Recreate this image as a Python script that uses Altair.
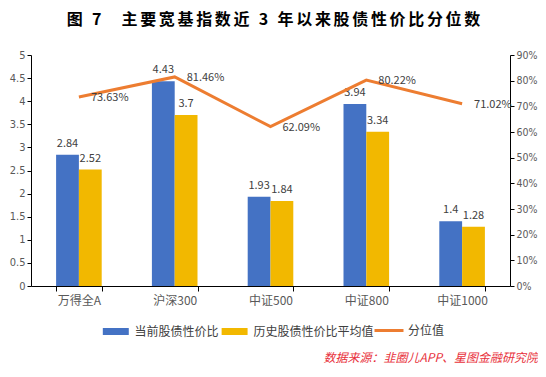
import altair as alt
import pandas as pd

categories = ["万得全A", "沪深300", "中证500", "中证800", "中证1000"]
current_ratio = [2.84, 4.43, 1.93, 3.94, 1.4]
hist_avg = [2.52, 3.7, 1.84, 3.34, 1.28]
percentile = [73.63, 81.46, 62.09, 80.22, 71.02]
series_names = ["当前股债性价比", "历史股债性价比平均值"]
line_name = "分位值"
left_ticks = [0, 0.5, 1, 1.5, 2, 2.5, 3, 3.5, 4, 4.5, 5]
right_ticks = [0, 0.1, 0.2, 0.3, 0.4, 0.5, 0.6, 0.7, 0.8, 0.9]
title_parts = ["图\u20057", "主要宽基指数近\u20053\u2005年以来股债性价比分位数"]
source_text = "数据来源：韭圈儿APP、星图金融研究院"

def spaced(s):
    return "\u2006".join(list(s))

title_text = spaced(title_parts[0]) + "\u2003\u2005" + spaced(title_parts[1])

FONT = "Noto Sans CJK SC"
NUMFONT = "'Liberation Sans Narrow', 'DejaVu Sans Condensed', 'Noto Sans CJK SC'"
GRAY = "#595959"

bars_df = pd.DataFrame(
    [{"cat": c, "series": series_names[0], "value": v} for c, v in zip(categories, current_ratio)]
    + [{"cat": c, "series": series_names[1], "value": v} for c, v in zip(categories, hist_avg)]
)
line_df = pd.DataFrame({"cat": categories, "pct": [p / 100 for p in percentile],
                        "label": [f"{p:.2f}%" for p in percentile]})

x_scale = alt.Scale(paddingInner=0.524, paddingOuter=0.262)
x_axis = alt.Axis(labelAngle=0, tickBand="extent", labelFontSize=12, labelColor=GRAY,
                  labelFont=FONT, domainColor="#000000", tickColor="#000000",
                  tickSize=5, labelPadding=4)

def xenc():
    return alt.X("cat:N", sort=categories, title=None, scale=x_scale, axis=x_axis)

left_axis = alt.Axis(values=left_ticks, grid=False, labelOverlap=False, labelFontSize=11,
                     labelExpr="'' + datum.value",
                     labelColor=GRAY, labelFont=NUMFONT, domainColor="#000000",
                     tickColor="#000000", tickSize=4, labelPadding=2)
yleft = alt.Y("value:Q", title=None, scale=alt.Scale(domain=[0, 5], nice=False), axis=left_axis)

bars = alt.Chart(bars_df).mark_bar().encode(
    x=xenc(),
    xOffset=alt.XOffset("series:N", sort=series_names, scale=alt.Scale(paddingInner=0, paddingOuter=0)),
    y=yleft,
    color=alt.Color("series:N", sort=series_names,
                    scale=alt.Scale(domain=series_names, range=["#4472C4", "#F2B800"]),
                    legend=alt.Legend(orient="none", legendX=78.8, legendY=270.5, direction="horizontal",
                                      title=None, labelFontSize=12, labelColor="#404040", labelFont=FONT,
                                      symbolType="M-2.5,-0.67H2.5V0.67H-2.5Z", symbolSize=108,
                                      symbolStrokeWidth=0, columnPadding=2.8, labelOffset=12.8)),
)
bar_text = alt.Chart(bars_df).mark_text(baseline="bottom", dy=-6, fontSize=11, color="#404040", font=FONT).encode(
    x=xenc(),
    xOffset=alt.XOffset("series:N", sort=series_names),
    y=yleft,
    text=alt.Text("value:Q"),
)
left = alt.layer(bars, bar_text)

right_axis = alt.Axis(orient="right", format=".0%", values=right_ticks, grid=False, labelOverlap=False,
                      labelFontSize=10.5, labelColor=GRAY, labelFont=NUMFONT, domainColor="#000000",
                      tickColor="#000000", tickSize=4, labelPadding=2)
yright = alt.Y("pct:Q", title=None, scale=alt.Scale(domain=[0, 0.9], nice=False), axis=right_axis)

line = alt.Chart(line_df).mark_line(strokeWidth=3).encode(
    x=xenc(),
    y=yright,
    stroke=alt.Stroke("s:N", scale=alt.Scale(domain=[line_name], range=["#ED7D31"]),
                      legend=alt.Legend(orient="none", legendX=342, legendY=259.5, title=None,
                                        labelFontSize=12, labelColor="#404040", labelFont=FONT,
                                        symbolType="stroke", symbolSize=841, symbolStrokeWidth=3,
                                        labelOffset=3)),
).transform_calculate(s=f"'{line_name}'")

line_text = alt.Chart(line_df).mark_text(align="left", baseline="middle", dx=12, dy=1, fontSize=11,
                                         color="#404040", font=FONT).encode(
    x=xenc(),
    y=yright,
    text="label:N",
)
right = alt.layer(line, line_text)

src = alt.Chart(alt.Data(values=[{"t": source_text}])).mark_text(
    align="right", baseline="middle", fontSize=12, font=FONT, color="#E8303A", fontStyle="italic"
).encode(x=alt.value(507), y=alt.value(303), text="t:N")

chart = alt.layer(left, right, src).resolve_scale(y="independent", color="independent").properties(
    width=479, height=231,
    padding={"left": 23, "top": 47, "right": 28, "bottom": 82},
    autosize=alt.AutoSizeParams(type="none"),
    title=alt.TitleParams(title_text, font=FONT, fontSize=16, fontWeight="bold", color="#000000",
                          anchor="middle", offset=21, dx=3),
).configure_view(stroke=None)

chart.save("out.html", embed_options={"renderer": "svg", "actions": False})
